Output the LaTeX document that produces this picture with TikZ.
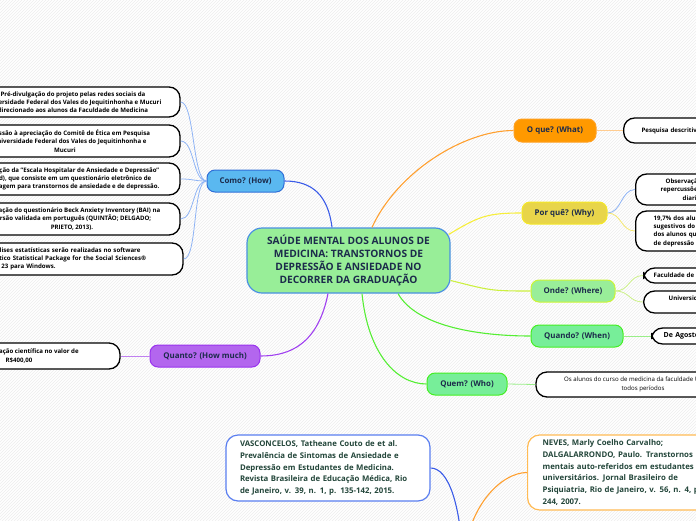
\documentclass[tikz,border=0pt]{standalone}
\usepackage{fontspec}
\setmainfont{Open Sans}
\usetikzlibrary{patterns}
\definecolor{navy}{HTML}{1C2B4B}
\definecolor{bibtext}{HTML}{23463A}
\definecolor{cfill}{HTML}{98EE98}
\definecolor{cborder}{HTML}{4A90E2}
\definecolor{comofill}{HTML}{5AB8F0}
\definecolor{comoborder}{HTML}{2F6FD8}
\definecolor{quantofill}{HTML}{B366EE}
\definecolor{quantoborder}{HTML}{9933EE}
\definecolor{oquefill}{HTML}{FF9900}
\definecolor{oqueborder}{HTML}{FFA020}
\definecolor{porquefill}{HTML}{E8D54A}
\definecolor{porqueborder}{HTML}{F5E826}
\definecolor{ondefill}{HTML}{99EE99}
\definecolor{ondeborder}{HTML}{CCF533}
\definecolor{quandofill}{HTML}{77EE99}
\definecolor{quandoborder}{HTML}{44EE22}
\definecolor{lnblue}{HTML}{3B5CE8}
\definecolor{lnblueL}{HTML}{8FB4F5}
\definecolor{lnpurple}{HTML}{A040F0}
\definecolor{lnpurpleL}{HTML}{C080F0}
\definecolor{lnorange}{HTML}{FFA030}
\definecolor{lnorangeL}{HTML}{FFCC90}
\definecolor{lnyellow}{HTML}{F7EE3A}
\definecolor{lnyellowL}{HTML}{F5E870}
\definecolor{lnlime}{HTML}{CCF040}
\definecolor{lnlimeL}{HTML}{CCF088}
\definecolor{lngreen}{HTML}{55EE33}
\definecolor{lngreenL}{HTML}{99EE88}
\definecolor{bibblue}{HTML}{5A7EF0}
\definecolor{biborange}{HTML}{FFBB55}
\begin{document}
\begin{tikzpicture}[x=1pt,y=-1pt,
  branch/.style={draw, line width=1pt, rounded corners=8pt, minimum height=22pt, inner sep=0pt,
    text=navy, font=\fontsize{7.9}{10}\selectfont\bfseries},
  leaf/.style={draw=black, line width=1.3pt, fill=white, rounded corners=11pt, inner sep=0pt,
    text=black, font=\fontsize{6.1}{8.3}\selectfont\bfseries, align=center},
  bib/.style={draw, line width=1.2pt, fill=white, rounded corners=12pt, inner ysep=0pt,
    text=bibtext, align=left, font=\fontsize{7.8}{11.7}\selectfont\bfseries},
  conn/.style={line width=1.1pt},
  subconn/.style={line width=0.8pt}
]
\useasboundingbox (0,0) rectangle (696,520);
\begin{scope}
\clip (0,0) rectangle (696,520);
\fill[white] (0,0) rectangle (696,520);
\fill[pattern=north east lines, pattern color=black!7] (0,0) rectangle (696,520);

% central
\node[draw=cborder, fill=cfill, line width=1.2pt, rounded corners=15pt, minimum width=203pt, minimum height=65pt,
  inner sep=0pt, align=center, text=navy, font=\fontsize{10.2}{13.2}\selectfont\bfseries]
  (central) at (348.5,260.5) {SAÚDE MENTAL DOS ALUNOS DE\\MEDICINA: TRANSTORNOS DE\\DEPRESSÃO E ANSIEDADE NO\\DECORRER DA GRADUAÇÃO};

% branches
\node[branch, fill=comofill, draw=comoborder, minimum width=77pt] (como) at (245.5,181) {Como? (How)};
\node[branch, fill=quantofill, draw=quantoborder, minimum width=110pt] (quanto) at (205,356) {Quanto? (How much)};
\node[branch, fill=oquefill, draw=oqueborder, minimum width=82pt, minimum height=23pt] (oque) at (555,130.5) {O que? (What)};
\node[branch, fill=porquefill, draw=porqueborder, minimum width=85pt] (porque) at (564.5,213) {Por quê? (Why)};
\node[branch, fill=ondefill, draw=ondeborder, minimum width=84pt] (onde) at (573,291) {Onde? (Where)};
\node[branch, fill=quandofill, draw=quandoborder, minimum width=92pt] (quando) at (577,336) {Quando? (When)};
\node[branch, fill=quandofill, draw=quandoborder, minimum width=80pt] (quem) at (467,384) {Quem? (Who)};

% left leaves (Como)
\node[leaf, minimum width=214pt, minimum height=30pt] (b1) at (73,102)
  {Pré-divulgação do projeto pelas redes sociais da\\Universidade Federal dos Vales do Jequitinhonha e Mucuri\\direcionado aos alunos da Faculdade de Medicina};
\node[leaf, minimum width=230pt, minimum height=32pt] (b2) at (65,141)
  {Submissão à apreciação do Comitê de Ética em Pesquisa\\da Universidade Federal dos Vales do Jequitinhonha e\\Mucuri};
\node[leaf, minimum width=220pt, minimum height=32pt] (b3) at (70,179)
  {Aplicação da "Escala Hospitalar de Ansiedade e Depressão"\\(Had), que consiste em um questionário eletrônico de\\rastreagem para transtornos de ansiedade e de depressão.};
\node[leaf, minimum width=216pt, minimum height=32pt] (b4) at (72,219)
  {Aplicação do questionário Beck Anxiety Inventory (BAI) na\\versão validada em português (QUINTÃO; DELGADO;\\PRIETO, 2013).};
\node[leaf, align=left, text width=196pt, minimum width=212pt, minimum height=32pt] (b5) at (77,259)
  {As análises estatísticas serão realizadas no software\\Estatístico Statistical Package for the Social Sciences®\\versão 23 para Windows.};

% Quanto leaf
\node[leaf, minimum width=202pt, minimum height=26pt] (bq) at (19,356)
  {Bolsa de iniciação científica no valor de\\R\$400,00};

% right leaves
\node[leaf, anchor=west, align=left, text width=110pt, inner xsep=18pt, minimum height=25pt] (ra) at (623,130.5)
  {Pesquisa descritiva};
\node[leaf, anchor=west, align=left, text width=100pt, inner xsep=25pt, minimum height=31pt] (rb) at (635,189.5)
  {\hspace*{5pt}Observação\\repercussões\\\hspace*{22pt}diariamente};
\node[leaf, anchor=west, align=left, text width=100pt, inner xsep=18pt, minimum height=40pt] (rc) at (635,231)
  {19,7\% dos alunos\\sugestivos do\\dos alunos que\\de depressão (};
\node[leaf, anchor=west, align=left, text width=100pt, inner xsep=10pt, minimum height=15pt] (rd) at (643,275.5)
  {Faculdade de Medicina};
\node[leaf, anchor=west, align=left, text width=150pt, inner xsep=25pt, minimum height=22pt] (re) at (643,302)
  {Universidade Federal dos Vales\\\hspace*{50pt}e Mucuri};
\node[leaf, anchor=west, align=left, text width=100pt, inner xsep=12pt, minimum height=16pt,
  font=\fontsize{7}{9}\selectfont\bfseries] (rf) at (651,336)
  {De Agosto};
\node[leaf, minimum width=214pt, minimum height=25pt, font=\fontsize{6.1}{8.3}\selectfont] (rg) at (643,384.5)
  {Os alunos do curso de medicina da faculdade UFVJM de\\todos períodos};

% bibliography
\node[bib, draw=bibblue, text width=176pt, inner xsep=14pt, minimum height=66pt] (vasc) at (328,468)
  {VASCONCELOS, Tatheane Couto de et al.\\Prevalência de Sintomas de Ansiedade e\\Depressão em Estudantes de Medicina.\\Revista Brasileira de Educação Médica, Rio\\de Janeiro, v. 39, n. 1, p. 135-142, 2015.};
\node[bib, draw=biborange, anchor=west, text width=190pt, inner xsep=15pt, minimum height=75pt] (neves) at (527,472.5)
  {NEVES, Marly Coelho Carvalho;\\DALGALARRONDO, Paulo. Transtornos\\mentais auto-referidos em estudantes\\universitários. Jornal Brasileiro de\\Psiquiatria, Rio de Janeiro, v. 56, n. 4, p.\\244, 2007.};
\coordinate (refhub) at (463,565);

% main connectors
\draw[conn, lnblue] ([xshift=-16.5pt]central.north) .. controls +(-4,-32) and +(28,0) .. (como.east);
\draw[conn, lnorange] ([xshift=23.5pt]central.north) .. controls +(25,-55) and +(-50,0) .. (oque.west);
\draw[conn, lnyellow] ([yshift=26pt,xshift=-2pt]central.east) .. controls +(30,-18) and +(-35,0) .. (porque.west);
\draw[conn, lnlime] ([yshift=-20pt]central.east) .. controls +(40,10) and +(-40,0) .. (onde.west);
\draw[conn, lngreen] ([xshift=49.5pt]central.south) .. controls +(20,35) and +(-45,0) .. (quando.west);
\draw[conn, lngreen] ([xshift=13.5pt]central.south) .. controls +(6,60) and +(-30,0) .. (quem.west);
\draw[conn, lnpurple] ([xshift=-20.5pt]central.south) .. controls +(-10,50) and +(30,0) .. (quanto.east);

% sub connectors
\foreach \b in {b1,b2,b3,b4,b5}
  \draw[subconn, lnblueL] (como.west) .. controls +(-14,0) and +(14,0) .. (\b.east);
\draw[subconn, lnpurpleL] (quanto.west) -- (bq.east);
\draw[subconn, lnorangeL] (oque.east) -- (ra.west);
\draw[subconn, lnblueL] (porque.east) .. controls +(14,0) and +(-14,0) .. (rb.west);
\draw[subconn, lnyellowL] (porque.east) .. controls +(14,0) and +(-14,0) .. (rc.west);
\draw[subconn, lnlimeL] (onde.east) .. controls +(14,0) and +(-14,0) .. (rd.west);
\draw[subconn, lnlimeL] (onde.east) .. controls +(14,0) and +(-14,0) .. (re.west);
\draw[subconn, lngreenL] (quando.east) -- (rf.west);
\draw[subconn, lngreenL] (quem.east) -- (rg.west);

% bibliography connectors
\draw[conn, lnblue] (vasc.east) .. controls +(18,0) and +(-2,-60) .. (refhub);
\draw[conn, lnorange] (neves.west) .. controls +(-25,0) and +(4,-60) .. (refhub);
\end{scope}
\end{tikzpicture}
\end{document}
